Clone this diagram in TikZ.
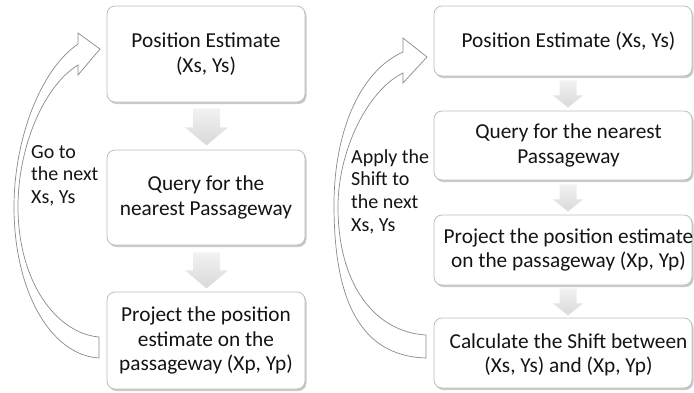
\documentclass[tikz,border=0pt]{standalone}
\usepackage{fontspec}
\setmainfont{Carlito}
\usetikzlibrary{calc,shadows}
\definecolor{txtc}{HTML}{141414}
\definecolor{edgec}{HTML}{BDBDBD}
\definecolor{curvec}{HTML}{8A8A8A}
\tikzset{
  box/.style={draw=edgec, line width=0.8pt, fill=white, rounded corners=8pt,
    drop shadow={shadow xshift=1.5pt, shadow yshift=-2pt, opacity=0.35, fill=black!60}},
  boxtext/.style={text=txtc, align=center, font=\fontsize{21.3}{24.5}\selectfont, inner sep=0pt},
  lbl/.style={text=txtc, align=left, font=\fontsize{20}{22.8}\selectfont, inner sep=0pt, anchor=north west},
  curvearrow/.style={draw=curvec, line width=0.7pt, fill=white, line join=miter},
  pics/darrow/.style args={#1/#2/#3/#4}{code={
    \shade[top color=gray!10, bottom color=gray!30]
      (-#1,0) -- (#1,0) -- (#1,#3) -- (#2,#3) -- (0,#4) -- (-#2,#3) -- (-#1,#3) -- cycle;
  }}
}
\begin{document}
\begin{tikzpicture}[x=1pt,y=-1pt]
\useasboundingbox (0,0) rectangle (694,392);

% ---------- left column ----------
\node[box, minimum width=198pt, minimum height=96pt] (l1) at (206,54) {};
\node[box, minimum width=198pt, minimum height=95pt] (l2) at (206,197.5) {};
\node[box, minimum width=198pt, minimum height=97pt] (l3) at (206,340.5) {};
\node[boxtext] (l1t) at (l1.center) {Position Estimate\\(Xs, Ys)};
\node[boxtext] (l2t) at (l2.center) {Query for the\\nearest Passageway};
\node[boxtext] (l3t) at (l3.center) {Project the position\\estimate on the\\passageway (Xp, Yp)};

\pic (la1) at ($(l1.south)+(0.5,6)$) {darrow={13.5/21.5/19/37}};
\pic (la2) at ($(l2.south)+(0.5,7)$) {darrow={13.5/21.5/18/36}};

% left curved arrow
\draw[curvearrow]
  (99,358) .. controls (50,355) and (14,290) .. (14,207)
  .. controls (14,140) and (40,70) .. (78,44)
  -- (78,33) -- (100,49) -- (78,75) -- (78,65)
  .. controls (45,85) and (18,145) .. (18,207)
  .. controls (18,280) and (55,333) .. (99,337) -- cycle;
\node[lbl] (lg) at (31,145) {Go to\\the next\\Xs, Ys};

% ---------- right column ----------
\node[box, minimum width=258pt, minimum height=70pt] (r1) at (563,41) {};
\node[box, minimum width=258pt, minimum height=69pt] (r2) at (563,145.5) {};
\node[box, minimum width=258pt, minimum height=70pt] (r3) at (563,250) {};
\node[box, minimum width=258pt, minimum height=70pt] (r4) at (563,353) {};
\node[boxtext] (r1t) at ($(r1.center)+(5.5,0)$) {Position Estimate (Xs, Ys)};
\node[boxtext] (r2t) at ($(r2.center)+(5.5,0)$) {Query for the nearest\\Passageway};
\node[boxtext] (r3t) at ($(r3.center)+(5.5,0)$) {Project the position estimate\\on the passageway (Xp, Yp)};
\node[boxtext] (r4t) at ($(r4.center)+(5.5,2)$) {Calculate the Shift between\\(Xs, Ys) and (Xp, Yp)};

\pic (ra1) at ($(r1.south)+(5,4)$) {darrow={8.5/15/15/27}};
\pic (ra2) at ($(r2.south)+(5,4)$) {darrow={8.5/15/15/27}};
\pic (ra3) at ($(r3.south)+(5,3)$) {darrow={8.5/15/15/27}};

% right curved arrow
\draw[curvearrow]
  (426,358) .. controls (360,356) and (334,300) .. (334,205)
  .. controls (334,135) and (358,72) .. (403,52)
  -- (403,38) -- (427,57) -- (403,83) -- (403,73)
  .. controls (368,90) and (338,150) .. (338,207)
  .. controls (338,285) and (375,332) .. (426,335) -- cycle;
\node[lbl] (rg) at (351,149) {Apply the\\Shift to\\the next\\Xs, Ys};
\end{tikzpicture}
\end{document}
